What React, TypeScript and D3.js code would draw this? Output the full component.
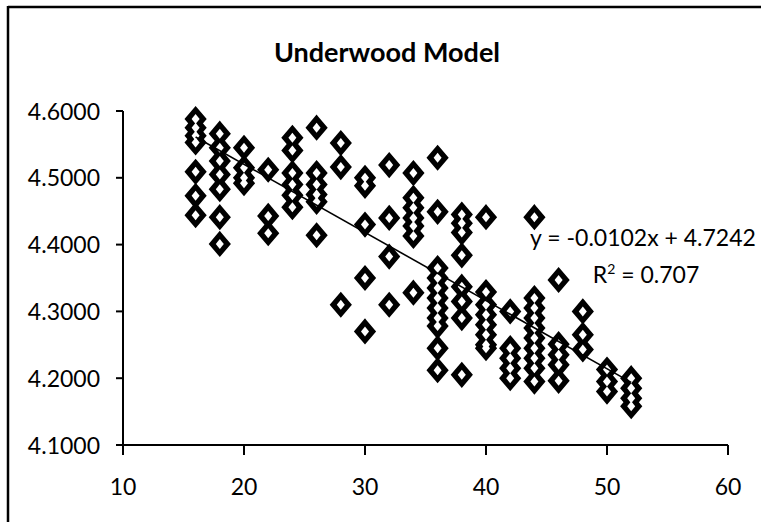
import React from "react";
import * as d3 from "d3";

const title = "Underwood Model";
const xTicks = [10, 20, 30, 40, 50, 60];
const yTicks = [4.1, 4.2, 4.3, 4.4, 4.5, 4.6];

const xValues = [16, 18, 20, 22, 24, 26, 28, 30, 32, 34, 36, 38, 40, 42, 44, 46, 48, 50, 52];
const yGroups: number[][] = [
  [4.588, 4.575, 4.563, 4.553, 4.509, 4.473, 4.444],
  [4.566, 4.545, 4.525, 4.505, 4.483, 4.441, 4.401],
  [4.545, 4.515, 4.5, 4.492],
  [4.512, 4.443, 4.417],
  [4.56, 4.541, 4.507, 4.49, 4.474, 4.456],
  [4.575, 4.507, 4.49, 4.475, 4.464, 4.414],
  [4.552, 4.516, 4.31],
  [4.5, 4.488, 4.43, 4.35, 4.27],
  [4.519, 4.44, 4.382, 4.31],
  [4.507, 4.47, 4.455, 4.44, 4.428, 4.413, 4.328],
  [4.53, 4.449, 4.365, 4.35, 4.335, 4.32, 4.305, 4.29, 4.278, 4.245, 4.212],
  [4.445, 4.432, 4.418, 4.384, 4.337, 4.315, 4.29, 4.205],
  [4.441, 4.329, 4.31, 4.295, 4.28, 4.265, 4.25, 4.245],
  [4.3, 4.245, 4.23, 4.215, 4.2],
  [4.441, 4.32, 4.305, 4.29, 4.275, 4.26, 4.245, 4.23, 4.215, 4.195],
  [4.347, 4.251, 4.235, 4.22, 4.196],
  [4.3, 4.265, 4.243],
  [4.213, 4.195, 4.18],
  [4.2, 4.185, 4.17, 4.158],
];
const slope = -0.0102;
const intercept = 4.7242;
const eqLabel = "y = -0.0102x + 4.7242";
const r2Value = "0.707";

const FONT = "Lato, 'Open Sans', sans-serif";

export default function App() {
  const x = d3.scaleLinear().domain([10, 60]).range([123, 728]);
  const y = d3.scaleLinear().domain([4.1, 4.6]).range([445, 111]);
  const points = xValues.flatMap((xv, i) => yGroups[i].map((yv) => ({ x: xv, y: yv })));
  const hw = 8.5;
  const hh = 10;
  const diamond = (cx: number, cy: number, a: number, b: number) =>
    `M${cx},${cy - b}L${cx + a},${cy}L${cx},${cy + b}L${cx - a},${cy}Z`;
  const xMin = d3.min(xValues)!;
  const xMax = d3.max(xValues)!;
  const line = d3
    .line<number>()
    .x((d) => x(d))
    .y((d) => y(slope * d + intercept));

  return (
    <svg
      width={761}
      height={522}
      style={{ position: "fixed", left: 0, top: 0, background: "#fff" }}
      fontFamily={FONT}
    >
      <rect x={0} y={0} width={761} height={522} fill="#fff" />
      {/* chart border */}
      <line x1={8} y1={7} x2={761} y2={7} stroke="#000" strokeWidth={2.5} />
      <line x1={8} y1={6} x2={8} y2={522} stroke="#000" strokeWidth={2.5} />

      <text x={387} y={62} textAnchor="middle" fontSize={27} fontWeight={700} fill="#000">
        {title}
      </text>

      {/* axes */}
      <line x1={x(10)} y1={y(4.6)} x2={x(10)} y2={y(4.1)} stroke="#000" strokeWidth={2} />
      <line x1={x(10) - 7} y1={y(4.1)} x2={x(60)} y2={y(4.1)} stroke="#000" strokeWidth={2} />
      {yTicks.map((t) => (
        <g key={"y" + t}>
          <line x1={x(10) - 7} x2={x(10)} y1={y(t)} y2={y(t)} stroke="#000" strokeWidth={2} />
          <text x={100} y={y(t) + 8.5} textAnchor="end" fontSize={23} fill="#000">
            {t.toFixed(4)}
          </text>
        </g>
      ))}
      {xTicks.map((t) => (
        <g key={"x" + t}>
          <line x1={x(t)} x2={x(t)} y1={y(4.1)} y2={y(4.1) + 10} stroke="#000" strokeWidth={2} />
          <text x={x(t)} y={495} textAnchor="middle" fontSize={23} fill="#000">
            {t}
          </text>
        </g>
      ))}

      {/* markers: outlines then interiors */}
      <g>
        {points.map((p, i) => (
          <path
            key={"o" + i}
            d={diamond(x(p.x), y(p.y), hw, hh)}
            fill="#000"
            stroke="#000"
            strokeWidth={4}
            strokeLinejoin="miter"
          />
        ))}
        {points.map((p, i) => (
          <path key={"f" + i} d={diamond(x(p.x), y(p.y), hw - 4.5, hh - 5)} fill="#fff" />
        ))}
      </g>

      {/* trendline */}
      <path d={line([xMin, xMax]) || ""} stroke="#000" strokeWidth={1.6} fill="none" />

      <text x={643} y={246} textAnchor="middle" fontSize={23} fill="#000">
        {eqLabel}
      </text>
      <text x={646} y={283} textAnchor="middle" fontSize={23} fill="#000">
        R<tspan dy={-9} fontSize={14}>2</tspan>
        <tspan dy={9}> = {r2Value}</tspan>
      </text>
    </svg>
  );
}
